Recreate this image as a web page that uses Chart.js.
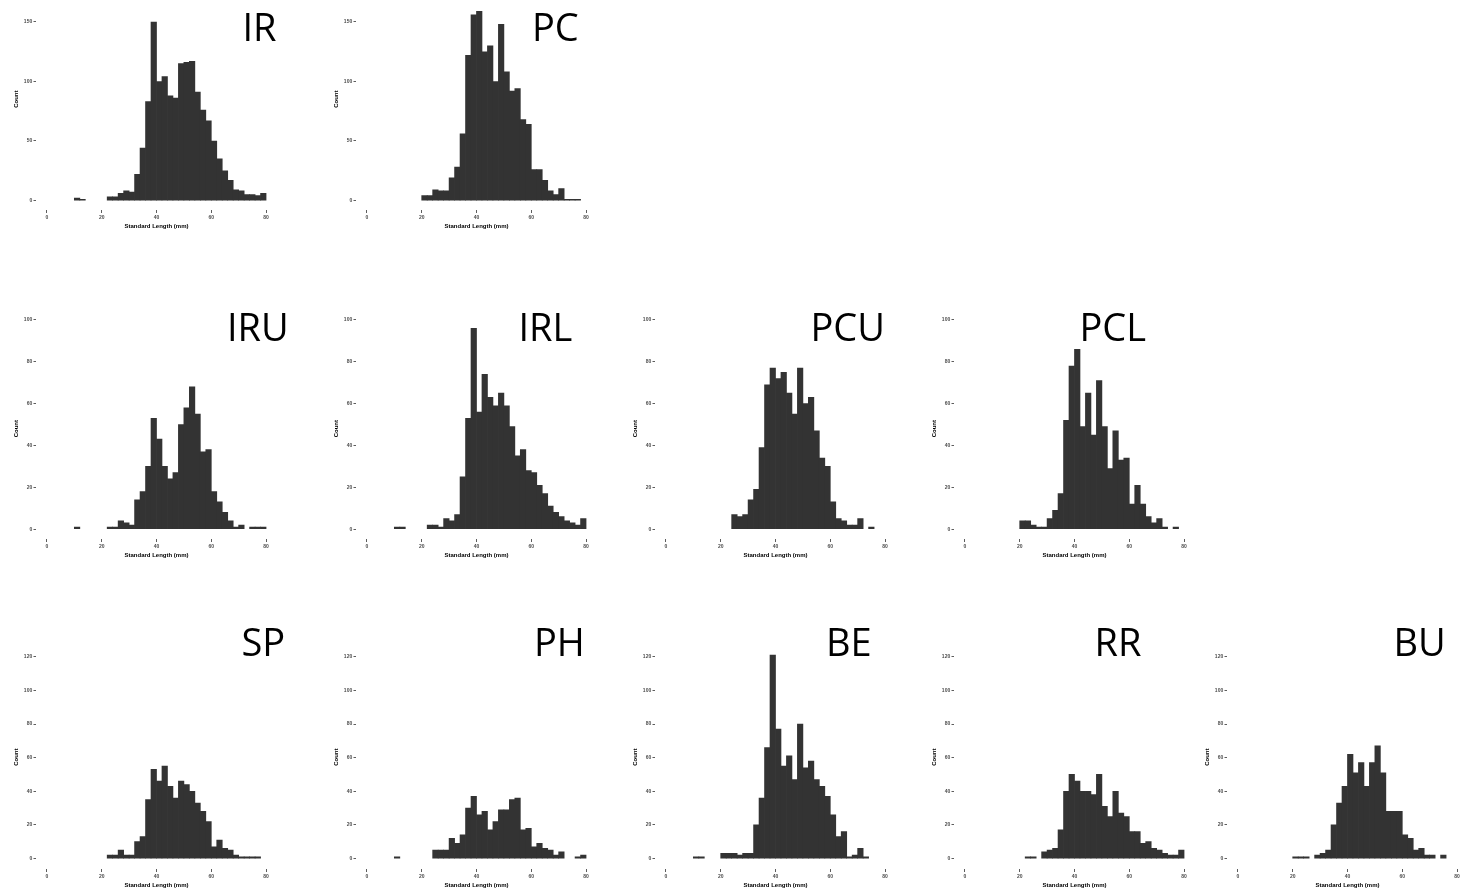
<!DOCTYPE html>
<html>
<head>
<meta charset="utf-8">
<title>Standard length histograms</title>
<script src="https://cdn.jsdelivr.net/npm/chart.js@4.4.1/dist/chart.umd.min.js"></script>
<style>
  html, body { margin: 0; padding: 0; background: #fff; }
  body { position: relative; width: 1461px; height: 891px; overflow: hidden; }
  canvas { position: absolute; }
  .panel-name {
    position: absolute;
    font-family: "Open Sans", "Noto Sans", sans-serif;
    font-size: 38px;
    line-height: 38px;
    color: #000;
    white-space: nowrap;
  }
</style>
</head>
<body>
<script>
// histograms.js

/* ===================== DATA ===================== */
// left edge of each 2 mm bin
const binStarts = [10, 12, 14, 16, 18, 20, 22, 24, 26, 28, 30, 32, 34, 36, 38, 40, 42, 44,
                   46, 48, 50, 52, 54, 56, 58, 60, 62, 64, 66, 68, 70, 72, 74, 76, 78];
const binWidth = 2;

const xTicks = [0, 20, 40, 60, 80];
const yTicksTop = [0, 50, 100, 150];
const yTicksMid = [0, 20, 40, 60, 80, 100];
const yTicksBottom = [0, 20, 40, 60, 80, 100, 120];

const countsIR  = [2, 1, 0, 0, 0, 0, 3, 3, 6, 8, 7, 22, 44, 83, 150, 100, 104, 88, 86, 115, 116, 117, 91, 76, 67, 50, 35, 25, 17, 9, 8, 5, 5, 4, 6];
const countsPC  = [0, 0, 0, 0, 0, 4, 4, 9, 8, 8, 19, 28, 56, 122, 156, 159, 125, 130, 100, 148, 108, 92, 94, 68, 64, 26, 26, 17, 8, 5, 10, 1, 1, 1, 0];
const countsIRU = [1, 0, 0, 0, 0, 0, 1, 1, 4, 3, 2, 14, 18, 30, 53, 43, 30, 24, 27, 50, 58, 68, 55, 37, 38, 18, 13, 8, 4, 1, 2, 0, 1, 1, 1];
const countsIRL = [1, 1, 0, 0, 0, 0, 2, 2, 1, 5, 4, 7, 25, 53, 96, 56, 74, 63, 59, 65, 59, 49, 35, 38, 28, 27, 21, 17, 11, 8, 6, 4, 3, 2, 5];
const countsPCU = [0, 0, 0, 0, 0, 0, 0, 7, 6, 7, 14, 19, 39, 69, 77, 72, 75, 65, 55, 77, 60, 63, 47, 34, 30, 13, 5, 4, 2, 2, 5, 0, 1, 0, 0];
const countsPCL = [0, 0, 0, 0, 0, 4, 4, 2, 1, 1, 5, 9, 17, 52, 78, 86, 49, 65, 45, 71, 49, 29, 47, 33, 34, 12, 21, 12, 6, 3, 5, 1, 0, 1, 0];
const countsSP  = [0, 0, 0, 0, 0, 0, 2, 2, 5, 2, 2, 10, 13, 35, 53, 46, 55, 43, 36, 46, 44, 40, 33, 28, 22, 7, 11, 6, 5, 2, 1, 1, 1, 1, 0];
const countsPH  = [1, 0, 0, 0, 0, 0, 0, 5, 5, 5, 12, 9, 14, 30, 37, 26, 28, 17, 22, 29, 29, 35, 36, 17, 18, 7, 9, 6, 5, 2, 4, 0, 0, 1, 2];
const countsBE  = [1, 1, 0, 0, 0, 3, 3, 3, 2, 3, 3, 20, 36, 66, 121, 77, 55, 61, 47, 80, 54, 58, 47, 43, 37, 26, 13, 16, 1, 2, 6, 1, 0, 0, 0];
const countsRR  = [0, 0, 0, 0, 0, 0, 1, 1, 0, 4, 5, 6, 17, 40, 50, 46, 40, 40, 38, 50, 31, 25, 40, 27, 25, 16, 16, 9, 10, 6, 5, 3, 2, 2, 5];
const countsBU  = [0, 0, 0, 0, 0, 1, 1, 1, 0, 2, 3, 5, 20, 33, 43, 62, 51, 57, 43, 57, 67, 51, 28, 28, 28, 14, 12, 5, 6, 2, 2, 0, 2, 0, 0];

/* ===================== LAYOUT ===================== */
const Y_AXIS_W = 24;
const X_AXIS_H = 22;
const PLOT_W = 241;
const TICK_FONT = { family: "'Liberation Sans', Arial, sans-serif", size: 5, weight: "bold" };
const TITLE_FONT = { family: "'Liberation Sans', Arial, sans-serif", size: 6, weight: "bold" };

const rows = [
    { top: -16, bottom: 210, yMin: -8, yMax: 178.3, ticks: yTicksTop },
    { top: 314, bottom: 539, yMin: -4.7, yMax: 100.8, ticks: yTicksMid },
    { top: 641, bottom: 869, yMin: -6.25, yMax: 126.85, ticks: yTicksBottom }
];
const colLefts = [36, 356, 655, 954, 1227];

const panels = [
    { name: "IR",  counts: countsIR,  row: 0, col: 0, label: [242.5, 7] },
    { name: "PC",  counts: countsPC,  row: 0, col: 1, label: [532, 7] },
    { name: "IRU", counts: countsIRU, row: 1, col: 0, label: [227, 307.3] },
    { name: "IRL", counts: countsIRL, row: 1, col: 1, label: [518.5, 307.3] },
    { name: "PCU", counts: countsPCU, row: 1, col: 2, label: [810.5, 306.8] },
    { name: "PCL", counts: countsPCL, row: 1, col: 3, label: [1079.5, 307.3] },
    { name: "SP",  counts: countsSP,  row: 2, col: 0, label: [241.5, 621.5] },
    { name: "PH",  counts: countsPH,  row: 2, col: 1, label: [534, 621.5] },
    { name: "BE",  counts: countsBE,  row: 2, col: 2, label: [826, 621.5] },
    { name: "RR",  counts: countsRR,  row: 2, col: 3, label: [1094.5, 621.5] },
    { name: "BU",  counts: countsBU,  row: 2, col: 4, label: [1393.5, 621.5] }
];

/* ===================== HISTOGRAM ===================== */
function renderHistogram(panel) {
    const row = rows[panel.row];
    const chartLeft = colLefts[panel.col];
    const w = Y_AXIS_W + PLOT_W;
    const h = (row.bottom - row.top) + X_AXIS_H;

    const canvas = document.createElement("canvas");
    canvas.width = w;
    canvas.height = h;
    canvas.style.width = w + "px";
    canvas.style.height = h + "px";
    canvas.style.left = (chartLeft - Y_AXIS_W) + "px";
    canvas.style.top = row.top + "px";
    document.body.appendChild(canvas);

    new Chart(canvas.getContext("2d"), {
        type: "bar",
        data: {
            datasets: [{
                data: binStarts.map((b, i) => ({ x: b + binWidth / 2, y: panel.counts[i] })),
                backgroundColor: "#333333",
                borderWidth: 0,
                barPercentage: 1,
                categoryPercentage: 1,
                inflateAmount: ctx => (ctx.raw && ctx.raw.y > 0 ? 0.35 : 0)
            }]
        },
        options: {
            responsive: false,
            animation: false,
            layout: { padding: 0 },
            plugins: {
                legend: { display: false },
                tooltip: { enabled: false }
            },
            scales: {
                x: {
                    type: "linear",
                    min: -4,
                    max: 84,
                    offset: false,
                    afterBuildTicks: s => { s.ticks = xTicks.map(v => ({ value: v })); },
                    afterFit: s => { s.height = X_AXIS_H; },
                    grid: { display: true, offset: false, drawOnChartArea: false, drawTicks: true, tickLength: 3, color: "#333", lineWidth: 0.8 },
                    border: { display: false },
                    ticks: { font: TICK_FONT, color: "#4d4d4d", padding: 2, maxRotation: 0, autoSkip: false },
                    title: { display: true, text: "Standard Length (mm)", font: TITLE_FONT, color: "#000", padding: { top: 0, bottom: 2 } }
                },
                y: {
                    type: "linear",
                    min: row.yMin,
                    max: row.yMax,
                    afterBuildTicks: s => { s.ticks = row.ticks.map(v => ({ value: v })); },
                    afterFit: s => { s.width = Y_AXIS_W; },
                    grid: { display: true, offset: false, drawOnChartArea: false, drawTicks: true, tickLength: 2.5, color: "#333", lineWidth: 0.8 },
                    border: { display: false },
                    ticks: { font: TICK_FONT, color: "#4d4d4d", padding: 1.3, autoSkip: false },
                    title: { display: true, text: "Count", font: TITLE_FONT, color: "#000", padding: { top: 0.4, bottom: 0 } }
                }
            }
        }
    });

    const name = document.createElement("div");
    name.className = "panel-name";
    name.textContent = panel.name;
    name.style.left = panel.label[0] + "px";
    name.style.top = panel.label[1] + "px";
    document.body.appendChild(name);
}

panels.forEach(renderHistogram);
</script>
</body>
</html>
